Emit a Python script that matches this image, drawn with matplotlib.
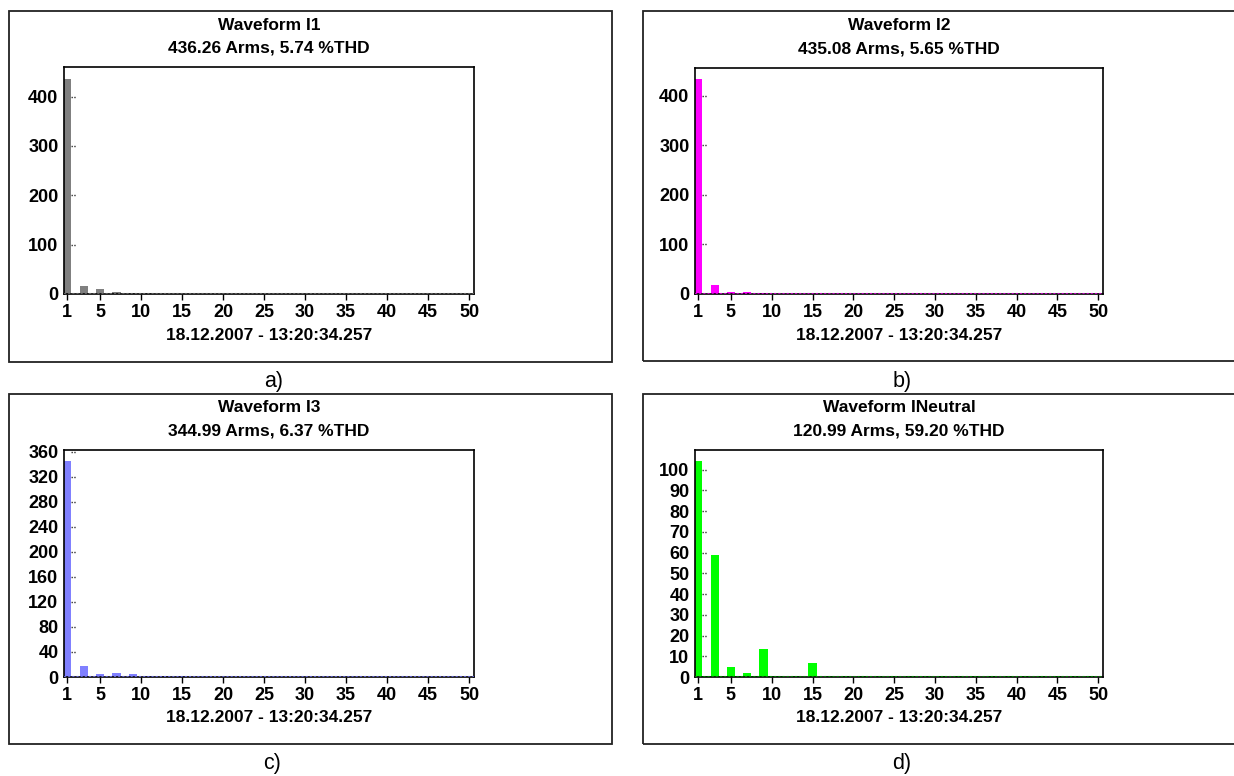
import matplotlib
matplotlib.use("Agg")
import matplotlib.pyplot as plt
from matplotlib.patches import Rectangle

plt.rcParams['font.family'] = ['Liberation Sans', 'DejaVu Sans']

W = 1234
H = 776

harmonics = list(range(1, 51))

# amplitudes per harmonic (A)
i1_values = [436, 0.3, 16, 0.3, 9.5, 0.2, 3.5, 0.2, 1.5, 0.2,
             1.5, 0.1, 0.8, 0.1, 0.6, 0.1, 0.5, 0.1, 0.4, 0.1,
             0.4, 0.1, 0.3, 0.1, 0.3, 0.1, 0.3, 0.1, 0.2, 0.1,
             0.2, 0.1, 0.2, 0.1, 0.2, 0.1, 0.2, 0.1, 0.2, 0.1,
             0.2, 0.1, 0.2, 0.1, 0.2, 0.1, 0.2, 0.1, 0.2, 0.1]
i2_values = [434, 0.3, 18, 0.3, 4, 0.2, 4, 0.2, 2, 0.2,
             0.8, 0.1, 0.6, 0.1, 0.5, 0.1, 0.4, 0.1, 0.3, 0.1,
             0.3, 0.1, 0.3, 0.1, 0.2, 0.1, 0.2, 0.1, 0.2, 0.1,
             0.2, 0.1, 0.2, 0.1, 0.2, 0.1, 0.2, 0.1, 0.2, 0.1,
             0.2, 0.1, 0.2, 0.1, 0.2, 0.1, 0.2, 0.1, 0.2, 0.1]
i3_values = [345, 0.4, 17.5, 0.3, 5, 0.3, 7, 0.2, 5.5, 0.2,
             1, 0.1, 0.8, 0.1, 1.5, 0.1, 0.5, 0.1, 0.4, 0.1,
             0.4, 0.1, 0.3, 0.1, 0.3, 0.1, 0.3, 0.1, 0.2, 0.1,
             0.2, 0.1, 0.2, 0.1, 0.2, 0.1, 0.2, 0.1, 0.2, 0.1,
             0.2, 0.1, 0.2, 0.1, 0.2, 0.1, 0.2, 0.1, 0.2, 0.1]
in_values = [104.3, 0.6, 59, 0.4, 4.8, 0.3, 2.1, 0.3, 13.7, 0.3,
             0.7, 0.2, 0.7, 0.2, 6.9, 0.2, 0.7, 0.2, 0.7, 0.2,
             0.7, 0.2, 0.3, 0.2, 0.3, 0.2, 0.3, 0.2, 0.3, 0.2,
             0.3, 0.2, 0.7, 0.2, 0.3, 0.2, 0.3, 0.2, 0.3, 0.2,
             0.3, 0.2, 0.3, 0.2, 0.3, 0.2, 0.3, 0.2, 0.3, 0.2]

titles = ["Waveform I1", "Waveform I2", "Waveform I3", "Waveform INeutral"]
subtitles = ["436.26 Arms, 5.74 %THD", "435.08 Arms, 5.65 %THD",
             "344.99 Arms, 6.37 %THD", "120.99 Arms, 59.20 %THD"]
stamp = "18.12.2007 - 13:20:34.257"
letters = ["a)", "b)", "c)", "d)"]
colors = ["#808080", "#ff00ff", "#8080ff", "#00ff00"]
edge_colors = ["#606060", "#c000c0", "#6060d0", "#008000"]

y_ticks = [[0, 100, 200, 300, 400],
           [0, 100, 200, 300, 400],
           [0, 40, 80, 120, 160, 200, 240, 280, 320, 360],
           [0, 10, 20, 30, 40, 50, 60, 70, 80, 90, 100]]
y_max = [460, 456, 363, 109.5]
x_ticks = [1, 5, 10, 15, 20, 25, 30, 35, 40, 45, 50]

series = [i1_values, i2_values, i3_values, in_values]

# pixel layout: (left, right, top, bottom) of plot area and outer frame
plot_px = [(64, 474, 67, 294), (695, 1103, 68, 294),
           (64, 474, 450, 677), (695, 1103, 450, 677)]
frame_px = [(9, 612, 11, 362), (643, 1240, 11, 361),
            (9, 612, 394, 744), (643, 1240, 394, 744)]
letter_px = [(274, 381), (902, 381), (272, 763), (902, 763)]


def fx(px):
	return px / W


def fy(py):
	return 1 - py / H


fig = plt.figure(figsize=(W / 100, H / 100), dpi=100)

for k in range(4):
	l, r, t, b = plot_px[k]
	ax = fig.add_axes([fx(l), fy(b), fx(r - l), (b - t) / H])

	#dotted tick marks inside the plot
	for v in y_ticks[k][1:]:
		ax.plot([0.017, 0.03], [v, v], transform=ax.get_yaxis_transform(),
				color="#333333", lw=1, ls=(0, (1, 1)), zorder=1)

	ax.bar(harmonics, series[k], width=1.0, color=colors[k],
		   edgecolor=colors[k], linewidth=0, zorder=2)
	ax.axhline(0, color=edge_colors[k], lw=1.5, ls=(0, (1, 1)), zorder=3)

	ax.set_xlim(0.6, 50.6)
	ax.set_ylim(0, y_max[k])
	ax.set_xticks(x_ticks)
	ax.set_yticks(y_ticks[k])
	ax.tick_params(axis='y', length=0, pad=4, labelsize=13)
	ax.tick_params(axis='x', direction='out', length=4, width=1, pad=3, labelsize=13)
	for lab in ax.get_xticklabels() + ax.get_yticklabels():
		lab.set_fontweight('bold')
	for s in ax.spines.values():
		s.set_linewidth(1.2)
		s.set_color('black')

	cx = (l + r) / 2
	fig.text(fx(cx), fy(t - 42), titles[k], ha='center', va='center',
			 fontsize=12.5, fontweight='bold')
	fig.text(fx(cx), fy(t - 19), subtitles[k], ha='center', va='center',
			 fontsize=12.5, fontweight='bold')
	fig.text(fx(cx), fy(b + 41), stamp, ha='center', va='center',
			 fontsize=12.5, fontweight='bold')

	#outer frame of the panel
	fl, fr, ft, fb = frame_px[k]
	fig.add_artist(Rectangle((fx(fl), fy(fb)), fx(fr - fl), (fb - ft) / H,
							 transform=fig.transFigure, fill=False,
							 edgecolor='#222222', lw=1.3))

	lx, ly = letter_px[k]
	fig.text(fx(lx), fy(ly), letters[k], ha='center', va='center', fontsize=15.5)

fig.savefig("out.png", dpi=100)
